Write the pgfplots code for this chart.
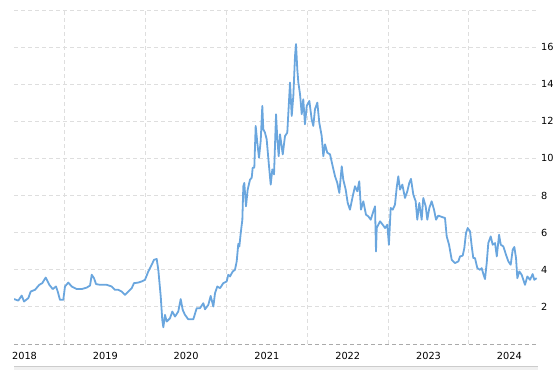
\documentclass[border=0pt]{standalone}
\usepackage{pgfplots}
\pgfplotsset{compat=1.18}
\usepackage{fontspec}
\setmainfont{DejaVu Sans}
\definecolor{lineblue}{RGB}{106,166,222}
\definecolor{gridgray}{RGB}{222,222,222}
\definecolor{basegray}{RGB}{170,170,170}
\pgfplotstableread{
x y
2017.870 2.42
2017.923 2.34
2017.965 2.61
2017.994 2.29
2018.047 2.47
2018.077 2.83
2018.130 2.92
2018.183 3.19
2018.220 3.28
2018.262 3.58
2018.307 3.19
2018.349 2.96
2018.390 3.10
2018.411 2.83
2018.439 2.38
2018.480 2.38
2018.501 3.10
2018.542 3.31
2018.584 3.10
2018.646 2.96
2018.708 2.96
2018.770 3.04
2018.811 3.15
2018.832 3.73
2018.860 3.55
2018.885 3.23
2018.934 3.19
2019.017 3.19
2019.079 3.10
2019.120 2.92
2019.161 2.92
2019.203 2.83
2019.244 2.65
2019.285 2.83
2019.327 3.01
2019.355 3.28
2019.408 3.31
2019.450 3.37
2019.491 3.46
2019.532 3.91
2019.574 4.27
2019.603 4.54
2019.636 4.58
2019.656 4.00
2019.686 2.56
2019.705 1.30
2019.718 0.90
2019.739 1.57
2019.760 1.21
2019.801 1.39
2019.829 1.75
2019.863 1.48
2019.903 1.75
2019.933 2.42
2019.958 1.84
2019.986 1.57
2020.027 1.33
2020.089 1.33
2020.131 1.93
2020.172 1.93
2020.213 2.20
2020.234 1.87
2020.275 2.11
2020.304 2.59
2020.337 2.02
2020.358 2.74
2020.386 3.10
2020.420 3.01
2020.460 3.28
2020.502 3.37
2020.522 3.73
2020.543 3.64
2020.577 3.91
2020.605 4.00
2020.626 4.45
2020.646 5.40
2020.659 5.26
2020.676 5.98
2020.696 6.70
2020.708 8.50
2020.720 8.68
2020.741 7.42
2020.762 8.32
2020.791 8.86
2020.812 8.96
2020.824 9.50
2020.844 9.50
2020.861 11.75
2020.881 10.85
2020.902 10.04
2020.923 10.94
2020.943 12.83
2020.955 11.57
2020.976 11.39
2020.997 11.03
2021.026 9.58
2021.047 8.59
2021.067 9.41
2021.088 9.14
2021.113 12.38
2021.129 11.03
2021.146 10.12
2021.162 11.30
2021.196 10.22
2021.224 11.21
2021.252 11.39
2021.286 14.09
2021.307 12.29
2021.327 13.37
2021.348 15.53
2021.360 16.16
2021.376 14.81
2021.389 14.09
2021.410 13.46
2021.431 12.38
2021.450 13.19
2021.471 11.84
2021.493 12.83
2021.525 13.10
2021.554 12.11
2021.574 11.75
2021.595 12.65
2021.624 13.01
2021.648 11.93
2021.678 11.21
2021.698 10.12
2021.719 10.76
2021.747 10.31
2021.781 10.22
2021.814 9.58
2021.843 9.04
2021.871 8.68
2021.896 8.14
2021.926 9.58
2021.945 8.86
2021.975 8.32
2022.000 7.60
2022.028 7.24
2022.062 7.96
2022.090 8.50
2022.119 8.23
2022.143 8.77
2022.164 7.24
2022.193 7.69
2022.226 6.97
2022.255 6.88
2022.285 6.70
2022.317 7.15
2022.338 7.42
2022.350 4.99
2022.359 6.25
2022.400 6.61
2022.433 6.43
2022.462 6.25
2022.490 6.43
2022.510 5.35
2022.532 7.33
2022.557 7.24
2022.585 7.51
2022.606 8.42
2022.626 9.04
2022.647 8.32
2022.676 8.59
2022.709 7.87
2022.738 8.23
2022.762 8.68
2022.783 8.90
2022.812 8.05
2022.841 7.69
2022.861 6.70
2022.886 7.60
2022.915 6.70
2022.935 7.87
2022.965 7.42
2022.985 6.70
2023.010 7.33
2023.039 7.69
2023.068 7.24
2023.093 6.70
2023.121 6.92
2023.163 6.85
2023.204 6.79
2023.225 5.80
2023.254 5.35
2023.287 4.54
2023.328 4.36
2023.369 4.45
2023.390 4.72
2023.423 4.76
2023.443 5.17
2023.464 5.98
2023.485 6.25
2023.514 6.07
2023.535 5.26
2023.554 4.63
2023.575 4.63
2023.604 4.09
2023.637 4.00
2023.658 4.09
2023.678 3.78
2023.699 3.50
2023.720 4.36
2023.740 5.44
2023.770 5.80
2023.794 5.35
2023.823 5.44
2023.845 4.72
2023.873 5.89
2023.894 5.35
2023.926 5.26
2023.959 4.81
2023.988 4.45
2024.017 4.27
2024.042 5.08
2024.062 5.23
2024.083 4.63
2024.099 3.55
2024.124 3.91
2024.153 3.73
2024.194 3.19
2024.223 3.64
2024.256 3.46
2024.289 3.77
2024.309 3.46
2024.338 3.55
}\datatable
\begin{document}
\begin{tikzpicture}
\useasboundingbox (0,0) rectangle (559bp,370bp);
\fill[gray!12] (14bp,0) rectangle (538bp,4bp);
\draw[gray!40, line width=0.8bp] (14bp,4bp) -- (538bp,4bp);
\begin{axis}[
  at={(14bp,26bp)}, anchor=south west,
  scale only axis, width=524bp, height=334bp,
  xmin=2017.870, xmax=2024.355, ymin=0, ymax=18,
  axis line style={draw=none},
  major tick length=0,
  xtick={2018.5,2019.5,2020.5,2021.5,2022.5,2023.5},
  xticklabels={},
  extra x ticks={2018,2019,2020,2021,2022,2023,2024},
  extra x tick labels={2018,2019,2020,2021,2022,2023,2024},
  extra x tick style={grid=none, xticklabel style={anchor=north, inner sep=0pt, yshift=-8bp}},
  ytick={2,4,...,18},
  yticklabels={2,4,6,8,10,12,14,16,{}},
  extra y ticks={0},
  extra y tick labels={},
  extra y tick style={major grid style={basegray, line width=0.9bp, dash pattern=on 4bp off 3bp}},
  yticklabel pos=right,
  yticklabel style={anchor=west, inner sep=0pt, xshift=3bp},
  tick label style={font=\fontsize{9.8}{11}\selectfont, text=black},
  grid=major,
  major grid style={gridgray, line width=0.9bp, dash pattern=on 4bp off 3bp},
]
\addplot[lineblue, line width=1.8bp, line join=round] table[x=x,y=y]{\datatable};
\end{axis}
\end{tikzpicture}
\end{document}
